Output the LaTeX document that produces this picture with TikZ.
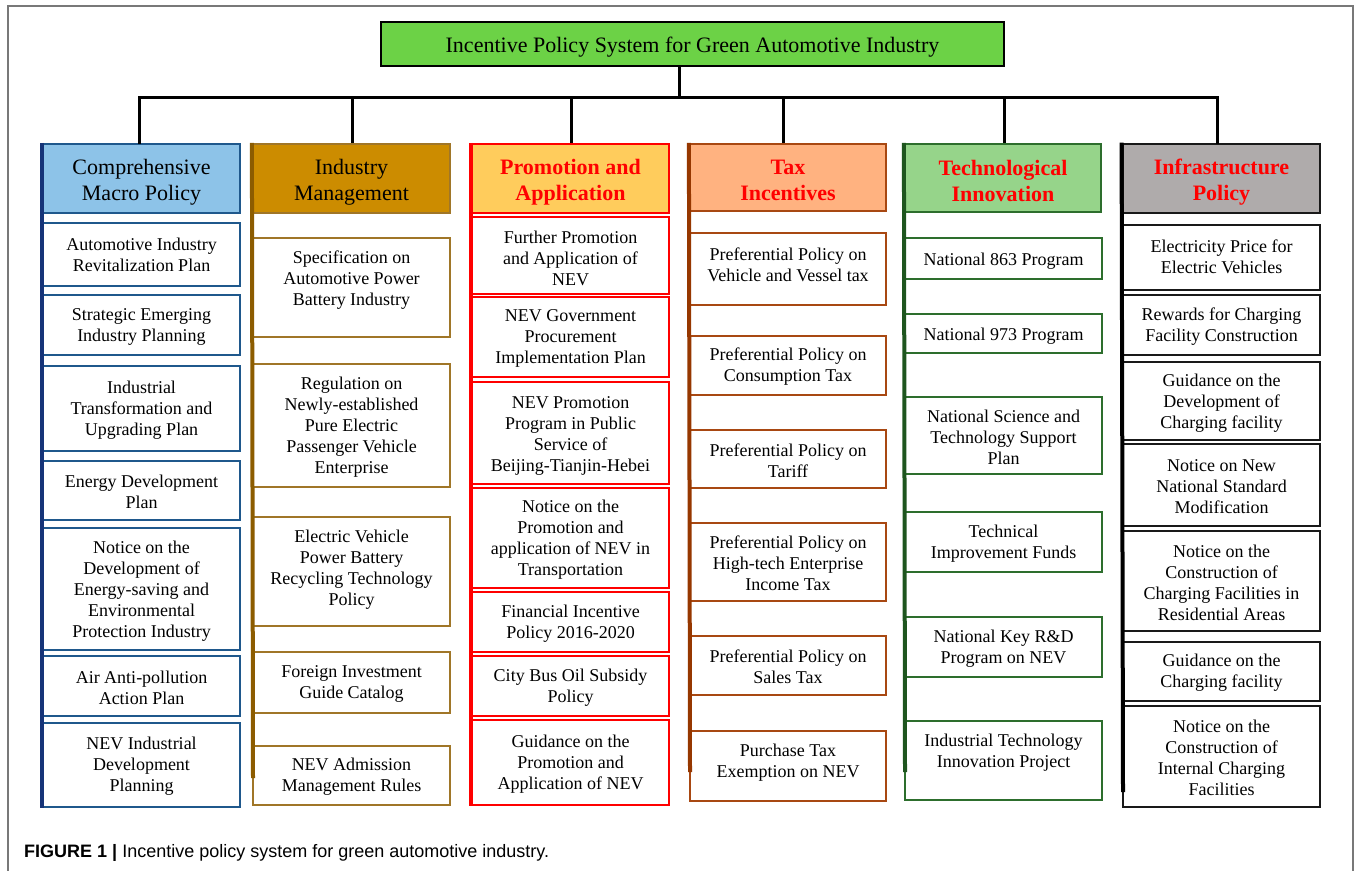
\documentclass[tikz,border=0pt]{standalone}
\usepackage{fontspec}
\setmainfont{Liberation Serif}
\newfontfamily\capfont{Liberation Sans}
\definecolor{c1fill}{RGB}{141,195,232}
\definecolor{c1bd}{RGB}{31,88,140}
\definecolor{c1ln}{RGB}{22,52,120}
\definecolor{c2fill}{RGB}{204,140,0}
\definecolor{c2bd}{RGB}{160,118,40}
\definecolor{c2ln}{RGB}{140,92,0}
\definecolor{c3fill}{RGB}{255,204,92}
\definecolor{c3bd}{RGB}{255,0,0}
\definecolor{c4fill}{RGB}{255,178,128}
\definecolor{c4bd}{RGB}{168,72,18}
\definecolor{c4ln}{RGB}{150,55,0}
\definecolor{c5fill}{RGB}{150,212,138}
\definecolor{c5bd}{RGB}{45,110,45}
\definecolor{c5ln}{RGB}{30,85,30}
\definecolor{c6fill}{RGB}{175,171,171}
\definecolor{c6bd}{RGB}{25,25,25}
\definecolor{titlefill}{RGB}{108,210,70}
\definecolor{hred}{RGB}{255,0,0}
\definecolor{framegray}{RGB}{120,120,120}
\newcommand\bx[9]{\node[box,#6,minimum width={#4-#2},minimum height={#5-#3},label={[#7,yshift=#8pt-1.5pt]center:{#9}}] (#1) at ({(#2+#4)/2},{(#3+#5)/2}) {};}
\begin{document}
\begin{tikzpicture}[x=1pt,y=-1pt,
  bus/.style={line width=3pt, black},
  box/.style={draw, line width=2.2pt, fill=white, inner sep=0pt},
  txt/.style={align=center, inner sep=0pt, font=\fontsize{18}{21}\selectfont, text=black},
  htxt/.style={align=center, inner sep=0pt, font=\fontsize{22}{26}\selectfont, text=black},
  rhtxt/.style={align=center, inner sep=0pt, font=\fontsize{22}{26}\selectfont\bfseries, text=hred},
  colline/.style={line width=4pt},
  k1/.style={draw=c1bd}, k2/.style={draw=c2bd}, k3/.style={draw=c3bd},
  k4/.style={draw=c4bd}, k5/.style={draw=c5bd}, k6/.style={draw=c6bd, line width=2.8pt}
]
\useasboundingbox (0,0) rectangle (1356,870);
\draw[framegray, line width=1.2pt] (8,872) -- (8,6) -- (1353,6) -- (1353,872);

% title
\bx{t}{381}{22}{1004}{66}{draw=black, line width=1.8pt, fill=titlefill}{htxt}{-1.5}{Incentive Policy System for Green Automotive Industry}

% column 1
\bx{h1}{43}{144}{240}{213}{k1, fill=c1fill}{htxt}{-2.5}{Comprehensive\\Macro Policy}
\bx{a1}{43}{223}{240}{286}{k1}{txt}{1}{Automotive Industry\\Revitalization Plan}
\bx{a2}{43}{295}{240}{355}{k1}{txt}{0}{Strategic Emerging\\Industry Planning}
\bx{a3}{43}{366}{240}{451}{k1}{txt}{0}{Industrial\\Transformation and\\Upgrading Plan}
\bx{a4}{43}{461}{240}{520}{k1}{txt}{0}{Energy Development\\Plan}
\bx{a5}{43}{528}{240}{650}{k1}{txt}{-1}{Notice on the\\Development of\\Energy-saving and\\Environmental\\Protection Industry}
\bx{a6}{43}{656}{240}{716}{k1}{txt}{0}{Air Anti-pollution\\Action Plan}
\bx{a7}{43}{723}{240}{807}{k1}{txt}{0}{NEV Industrial\\Development\\Planning}

% column 2
\bx{h2}{253}{144}{450}{213}{k2, fill=c2fill}{htxt}{-2.5}{Industry\\Management}
\bx{b1}{253}{238}{450}{337}{k2}{txt}{8.5}{Specification on\\Automotive Power\\Battery Industry}
\bx{b2}{253}{364}{450}{487}{k2}{txt}{0}{Regulation on\\Newly-established\\Pure Electric\\Passenger Vehicle\\Enterprise}
\bx{b3}{253}{517}{450}{626}{k2}{txt}{3}{Electric Vehicle\\Power Battery\\Recycling Technology\\Policy}
\bx{b4}{253}{652}{450}{713}{k2}{txt}{0}{Foreign Investment\\Guide Catalog}
\bx{b5}{253}{746}{450}{805}{k2}{txt}{0}{NEV Admission\\Management Rules}

% column 3
\bx{h3}{472}{144}{669}{213}{k3, fill=c3fill}{rhtxt}{-2.5}{Promotion and\\Application}
\bx{c1}{472}{217}{669}{294}{k3}{txt}{-1}{Further Promotion\\and Application of\\NEV}
\bx{c2}{472}{297}{669}{377}{k3}{txt}{0}{NEV Government\\Procurement\\Implementation Plan}
\bx{c3}{472}{382}{669}{484}{k3}{txt}{-1}{NEV Promotion\\Program in Public\\Service of\\Beijing-Tianjin-Hebei}
\bx{c4}{472}{488}{669}{588}{k3}{txt}{0}{Notice on the\\Promotion and\\application of NEV in\\Transportation}
\bx{c5}{472}{592}{669}{652}{k3}{txt}{0}{Financial Incentive\\Policy 2016-2020}
\bx{c6}{472}{656}{669}{716}{k3}{txt}{0}{City Bus Oil Subsidy\\Policy}
\bx{c7}{472}{720}{669}{805}{k3}{txt}{0}{Guidance on the\\Promotion and\\Application of NEV}

% column 4
\bx{h4}{690}{144}{886}{211}{k4, fill=c4fill}{rhtxt}{-1.5}{Tax\\Incentives}
\bx{d1}{690}{233}{886}{305}{k4}{txt}{5.5}{Preferential Policy on\\Vehicle and Vessel tax}
\bx{d2}{690}{336}{886}{395}{k4}{txt}{0}{Preferential Policy on\\Consumption Tax}
\bx{d3}{690}{430}{886}{488}{k4}{txt}{0}{Preferential Policy on\\Tariff}
\bx{d4}{690}{523}{886}{601}{k4}{txt}{0}{Preferential Policy on\\High-tech Enterprise\\Income Tax}
\bx{d5}{690}{636}{886}{695}{k4}{txt}{0}{Preferential Policy on\\Sales Tax}
\bx{d6}{690}{731}{886}{801}{k4}{txt}{4.5}{Purchase Tax\\Exemption on NEV}

% column 5
\bx{h5}{905}{144}{1101}{212}{k5, fill=c5fill}{rhtxt}{-1}{Technological\\Innovation}
\bx{e1}{905}{238}{1102}{279}{k5}{txt}{-1.5}{National 863 Program}
\bx{e2}{905}{314}{1102}{353}{k5}{txt}{-1}{National 973 Program}
\bx{e3}{905}{397}{1102}{474}{k5}{txt}{0}{National Science and\\Technology Support\\Plan}
\bx{e4}{905}{512}{1102}{572}{k5}{txt}{0}{Technical\\Improvement Funds}
\bx{e5}{905}{617}{1102}{677}{k5}{txt}{0}{National Key R\&D\\Program on NEV}
\bx{e6}{905}{721}{1102}{800}{k5}{txt}{9}{Industrial Technology\\Innovation Project}

% column 6
\bx{h6}{1123}{144}{1320}{213}{k6, fill=c6fill}{rhtxt}{-2.5}{Infrastructure\\Policy}
\bx{f1}{1123}{225}{1320}{290}{k6}{txt}{2}{Electricity Price for\\Electric Vehicles}
\bx{f2}{1123}{295}{1320}{355}{k6}{txt}{0}{Rewards for Charging\\Facility Construction}
\bx{f3}{1123}{362}{1320}{440}{k6}{txt}{-1}{Guidance on the\\Development of\\Charging facility}
\bx{f4}{1123}{444}{1320}{526}{k6}{txt}{0}{Notice on New\\National Standard\\Modification}
\bx{f5}{1123}{531}{1320}{631}{k6}{txt}{0}{Notice on the\\Construction of\\Charging Facilities in\\Residential Areas}
\bx{f6}{1123}{642}{1320}{701}{k6}{txt}{0}{Guidance on the\\Charging facility}
\bx{f7}{1123}{706}{1320}{807}{k6}{txt}{0}{Notice on the\\Construction of\\Internal Charging\\Facilities}

% column spines
\coordinate (e2end) at (253,778);
\coordinate (e4end) at (690,772);
\coordinate (e5end) at (905,772);
\coordinate (e6end) at (1123,792);
\draw[colline, c1ln] (h1.north west) -- (a7.south west);
\draw[colline, c2ln] (h2.north west) -- (e2end);
\draw[colline, c3bd] (h3.north west) -- (c7.south west);
\draw[colline, c4ln] (h4.north west) -- (e4end);
\draw[colline, c5ln] (h5.north west) -- (e5end);
\draw[colline, black] (h6.north west) -- (e6end);

% connectors
\coordinate (bus) at (679,97);
\draw[bus] (bus |- t.south) -- (bus);
\draw[bus, line cap=rect] ([xshift=-2.5pt]h1.north) -- ([xshift=-2.5pt]h1.north |- bus) -- ([xshift=-4.5pt]h6.north |- bus) -- ([xshift=-4.5pt]h6.north);
\draw[bus] ([xshift=0.5pt]h2.north) -- ([xshift=0.5pt]h2.north |- bus);
\draw[bus] ([xshift=0.5pt]h3.north) -- ([xshift=0.5pt]h3.north |- bus);
\draw[bus] ([xshift=-5pt]h4.north) -- ([xshift=-5pt]h4.north |- bus);
\draw[bus] ([xshift=1pt]h5.north) -- ([xshift=1pt]h5.north |- bus);

% caption
\node[anchor=west, inner sep=0pt, font=\capfont\fontsize{18}{21}\selectfont] (cap) at (24,853) {\textbf{FIGURE 1 |} Incentive policy system for green automotive industry.};
\end{tikzpicture}
\end{document}
